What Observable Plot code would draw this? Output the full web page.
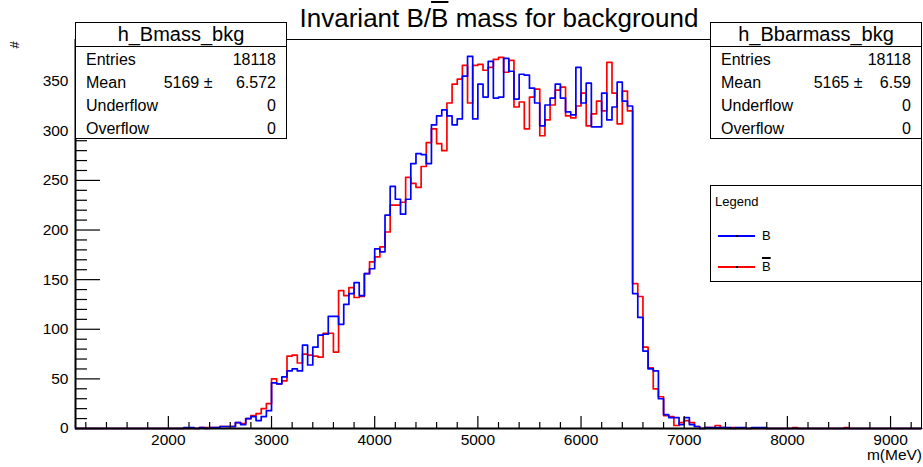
<!DOCTYPE html>
<html><head><meta charset="utf-8">
<script src="https://cdn.jsdelivr.net/npm/d3@7"></script>
<script src="https://cdn.jsdelivr.net/npm/@observablehq/plot@0.6"></script>
<style>
body{margin:0;background:#fff;font-family:"Liberation Sans",Arial,sans-serif;}
#wrap{position:relative;width:923px;height:467px;overflow:hidden;background:#fff;}
#wrap svg{position:absolute;left:0;top:0;}
.abs{position:absolute;white-space:nowrap;color:#000;}
.box{position:absolute;border:1px solid #000;background:#fff;box-sizing:border-box;}
.ob{text-decoration:overline;text-decoration-thickness:2px;}
.stitle{position:absolute;left:0;right:0;top:0;height:23px;line-height:23px;text-align:center;font-size:20px;border-bottom:1px solid #000;}
.row{position:absolute;left:0;right:0;height:23px;line-height:23px;font-size:16px;}
.row .l{position:absolute;left:10px;}
.row .r{position:absolute;right:10px;}
</style></head><body><div id="wrap"></div><script>
// ---- data (bin contents, 50 MeV bins, first listed bin starts at 2100 MeV) ----
const binStart = 2100;
const binWidth = 50;
const axisMin = 1100, axisMax = 9300;
const countsB = [
  0,1,1,0,1,0,1,1,2,2,
  2,6,4,10,12,8,12,18,46,45,
  52,58,60,58,84,64,82,94,95,113,
  113,105,125,136,147,134,156,161,181,178,
  215,244,231,216,231,267,277,276,267,306,
  315,321,315,306,312,355,375,312,347,334,
  370,333,334,373,360,332,357,356,343,328,
  305,326,333,347,333,319,316,364,328,348,
  304,304,338,311,324,349,330,325,136,112,
  78,60,58,30,14,11,11,4,11,4,
  2,0,1,1,1,1,1,0,1,1,
  0,1,1,1,0,0,0,0,0,0,
  0,0,0,0,0,0,0,0,0,0
];
const countsBbar = [
  0,0,0,0,1,1,1,1,2,2,
  2,6,5,10,13,15,20,25,50,45,
  48,73,74,66,75,74,73,72,96,96,
  77,139,134,142,132,133,156,168,173,183,
  198,225,225,228,253,247,243,264,288,302,
  287,280,328,347,352,366,328,366,367,361,
  364,372,374,359,371,324,329,302,334,342,
  295,311,326,341,344,315,313,325,338,305,
  317,330,320,369,338,307,340,320,146,133,
  82,61,40,32,13,12,3,6,8,6,
  2,0,1,1,3,1,0,1,0,0,
  0,0,0,0,0,0,0,0,0,1,
  0,0,0,0,0,0,0,0,0,1
];
const xMajorTicks = [2000,3000,4000,5000,6000,7000,8000,9000];
const yMajorTicks = [0,50,100,150,200,250,300,350];
const yMax = 392;

const statNames = ["h_Bmass_bkg","h_Bbarmass_bkg"];
const statEntries = [18118,18118];
const statMean = [5169,5165];
const statMeanErr = ["6.572","6.59"];
const statUnder = [0,0];
const statOver = [0,0];
const legendLabels = ["B","B"];
const legendOverline = [false,true];
const seriesColors = ["#0000ff","#ff0000"];

// ---- build histogram outlines ----
function outline(counts){
  const pts = [];
  for (let e = axisMin; e < axisMax; e += binWidth){
    const i = Math.round((e - binStart)/binWidth);
    const c = (i >= 0 && i < counts.length) ? counts[i] : 0;
    pts.push({x:e, y:c});
  }
  pts.push({x:axisMax, y:0});
  return pts;
}
const ptsB = outline(countsB), ptsBbar = outline(countsBbar);

const W=923,H=467,mL=75,mR=2,mT=39,mB=39;
const frameW = W-mL-mR, frameH = H-mT-mB;
const xMinor = d3.range(1200, 9300, 200).filter(v => v % 1000 !== 0);
const yMinor = d3.range(10, yMax, 10).filter(v => v % 50 !== 0);

const chart = Plot.plot({
  width: W, height: H, marginLeft: mL, marginRight: mR, marginTop: mT, marginBottom: mB,
  style: {fontFamily: "Liberation Sans, Arial, sans-serif", background: "white", color: "black"},
  x: {domain: [axisMin, axisMax]},
  y: {domain: [0, yMax]},
  marks: [
    Plot.line(ptsBbar, {x:"x", y:"y", curve:"step-after", stroke:seriesColors[1], strokeWidth:1.7}),
    Plot.line(ptsB, {x:"x", y:"y", curve:"step-after", stroke:seriesColors[0], strokeWidth:1.7}),
    Plot.ruleX(xMajorTicks, {x:d=>d, insetTop: frameH-12, stroke:"black", strokeWidth:1.2}),
    Plot.ruleX(xMinor, {x:d=>d, insetTop: frameH-6, stroke:"black", strokeWidth:1.2}),
    Plot.ruleY(yMajorTicks, {y:d=>d, insetRight: frameW-25, stroke:"black", strokeWidth:1.2}),
    Plot.ruleY(yMinor, {y:d=>d, insetRight: frameW-12, stroke:"black", strokeWidth:1.2}),
    Plot.axisX(xMajorTicks, {tickSize:0, tickPadding:5, fontSize:15.5, label:null, tickFormat:d=>String(d)}),
    Plot.axisY(yMajorTicks, {tickSize:0, tickPadding:7, fontSize:15.5, label:null, tickFormat:d=>String(d)}),
    Plot.ruleY([0], {stroke:"black", strokeWidth:2}),
    Plot.ruleX([axisMin], {stroke:"black", strokeWidth:2}),
    Plot.frame({stroke:"black", strokeWidth:1})
  ]
});
const wrap = document.getElementById("wrap");
wrap.appendChild(chart);

function add(html){ wrap.insertAdjacentHTML("beforeend", html); }

// title
add(`<div class="abs" style="left:499px;top:5px;transform:translateX(-50%);font-size:26px;line-height:26px;">Invariant B/<span class="ob">B</span> mass for background</div>`);
// axis titles
add(`<div class="abs" style="left:14px;top:45px;transform:translate(-50%,-50%) rotate(-90deg);font-size:13px;line-height:13px;">#</div>`);
add(`<div class="abs" style="right:1px;top:446px;font-size:15.5px;line-height:18px;">m(MeV)</div>`);

// stat boxes
const boxLeft = [75, 710];
const meanRight = [73.5, 58.5];
statNames.forEach((n,i)=>{
  add(`<div class="box" style="left:${boxLeft[i]}px;top:22px;width:212px;height:117px;">
    <div class="stitle">${n}</div>
    <div class="row" style="top:25px"><span class="l">Entries</span><span class="r">${statEntries[i]}</span></div>
    <div class="row" style="top:48px"><span class="l">Mean</span><span class="r" style="right:${meanRight[i]}px">${statMean[i]} ±</span><span class="r">${statMeanErr[i]}</span></div>
    <div class="row" style="top:71px"><span class="l">Underflow</span><span class="r">${statUnder[i]}</span></div>
    <div class="row" style="top:94px"><span class="l">Overflow</span><span class="r">${statOver[i]}</span></div>
  </div>`);
});

// legend
let leg = `<div class="box" style="left:710px;top:185px;width:212px;height:97px;">
  <div class="abs" style="left:4px;top:8px;font-size:13px;line-height:16px;">Legend</div>`;
legendLabels.forEach((l,i)=>{
  const cy = 49 + i*31;
  leg += `<div style="position:absolute;left:7px;top:${cy}px;width:37px;height:2px;background:${seriesColors[i]};"></div>
  <div style="position:absolute;left:25px;top:${cy}px;width:2px;height:2px;background:#000;"></div>
  <div class="abs" style="left:51px;top:${cy-7}px;font-size:13px;line-height:16px;">${legendOverline[i]?`<span class="ob" style="text-decoration-thickness:1.5px">${l}</span>`:l}</div>`;
});
leg += `</div>`;
add(leg);
</script></body></html>
